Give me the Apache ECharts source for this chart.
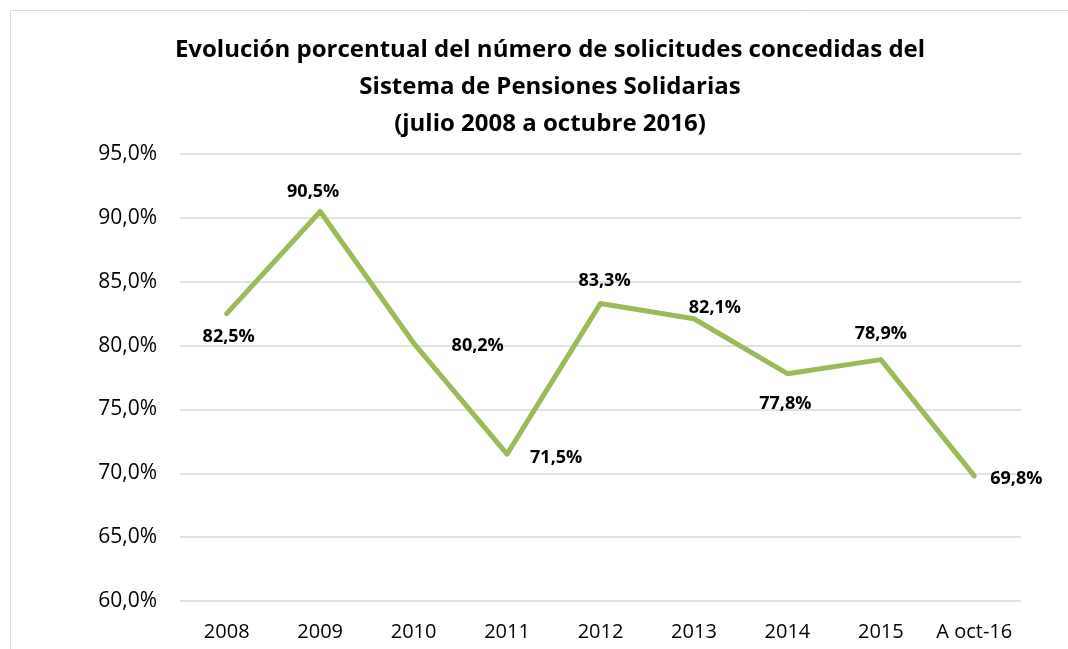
<!DOCTYPE html>
<html>
<head>
<meta charset="utf-8">
<script src="https://cdn.jsdelivr.net/npm/echarts@6/dist/echarts.min.js"></script>
<style>
  html, body { margin: 0; padding: 0; background: #fff; }
  #chart { width: 1068px; height: 649px; }
</style>
</head>
<body>
<div id="chart"></div>
<script>
// categories and values
var years = ['2008', '2009', '2010', '2011', '2012', '2013', '2014', '2015', 'A oct-16']
var pct = [82.5, 90.5, 80.2, 71.5, 83.3, 82.1, 77.8, 78.9, 69.8]
// where each data label sits relative to its point
var labelPos = ['bottom', 'top', 'right', 'right', 'top', 'top', 'bottom', 'top', 'right']
var labelOff = [[2, 2], [-7, 1], [26, 3], [11, 4], [4, -2], [21, 10], [-2, 9], [0, -5], [4, 3]]

var fmt = function (v) { return v.toFixed(1).replace('.', ',') + '%' }

var myChart = echarts.init(document.getElementById('chart'))

var points = pct.map(function (v, i) {
  return {
    value: v,
    label: { position: labelPos[i], offset: labelOff[i] }
  }
})

var option = {
  backgroundColor: '#fff',
  animation: false,
  title: {
    text: 'Evolución porcentual del número de solicitudes concedidas del\nSistema de Pensiones Solidarias\n(julio 2008 a octubre 2016)',
    left: 545,
    top: 27,
    textAlign: 'center',
    textStyle: {
      fontFamily: 'Open Sans',
      fontWeight: 'bold',
      fontSize: 24,
      lineHeight: 37,
      color: '#000'
    }
  },
  graphic: [{
    type: 'rect',
    shape: { x: 10.5, y: 10.5, width: 1100, height: 700 },
    style: { fill: 'none', stroke: '#d9d9d9', lineWidth: 1 },
    silent: true
  }],
  grid: { left: 180, right: 47, top: 154, bottom: 48 },
  xAxis: {
    type: 'category',
    data: years,
    boundaryGap: true,
    axisLine: { show: false },
    axisTick: { show: false },
    axisLabel: { interval: 0, color: '#000', fontFamily: 'Open Sans', fontSize: 20, margin: 21 }
  },
  yAxis: {
    type: 'value',
    min: 60,
    max: 95,
    interval: 5,
    axisLine: { show: false },
    axisTick: { show: false },
    splitLine: { lineStyle: { color: '#d9d9d9', width: 1.5 } },
    axisLabel: {
      color: '#000', fontFamily: 'Open Sans', fontSize: 21, margin: 23,
      formatter: fmt
    }
  },
  series: [{
    type: 'line',
    data: points,
    symbol: 'circle',
    symbolSize: 4,
    showSymbol: true,
    lineStyle: { color: '#9bbb59', width: 5, cap: 'round', join: 'round' },
    itemStyle: { color: '#9bbb59' },
    label: {
      show: true,
      distance: 10,
      color: '#000',
      fontFamily: 'Open Sans',
      fontWeight: 'bold',
      fontSize: 18,
      formatter: function (p) { return fmt(p.value) }
    }
  }]
}

myChart.setOption(option)
</script>
</body>
</html>
